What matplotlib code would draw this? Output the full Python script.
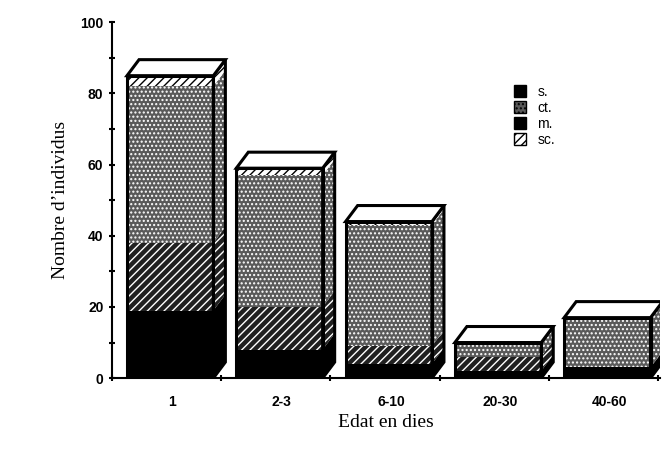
import matplotlib
matplotlib.use("Agg")
import matplotlib.pyplot as plt
from matplotlib.patches import Polygon, Patch
import numpy as np

plt.rcParams['hatch.linewidth'] = 1.0

categories = ["1", "2-3", "6-10", "20-30", "40-60"]
s_vals = [19, 8, 4, 2, 3]
m_vals = [19, 12, 5, 4, 0]
ct_vals = [44, 37, 34, 4, 14]
sc_vals = [3, 2, 1, 0, 0]

# styles per segment: (facecolor, hatch, hatchcolor)
styles = {
    "s.": ("black", None, "black"),
    "m.": ("#202020", "////", "white"),
    "ct.": ("#5a5a5a", "....", "white"),
    "sc.": ("white", "////", "black"),
}
series = [("s.", s_vals), ("m.", m_vals), ("ct.", ct_vals), ("sc.", sc_vals)]

fig = plt.figure(figsize=(6.65, 4.55), dpi=100)
ax = fig.add_axes([0.168, 0.169, 0.825, 0.782])

x = np.arange(len(categories))
left = x + 0.14
w = 0.79
dx, dy = 0.11, 4.5

bottoms = np.zeros(len(categories))
for name, vals in series:
    fc, hatch, hc = styles[name]
    vals = np.array(vals, dtype=float)
    ax.bar(left, vals, w, bottom=bottoms, align="edge", facecolor=fc,
           hatch=hatch, edgecolor=hc, linewidth=0, zorder=2)
    # side face segment
    for i in range(len(categories)):
        if vals[i] <= 0:
            continue
        x0 = left[i] + w
        b, t = bottoms[i], bottoms[i] + vals[i]
        ax.add_patch(Polygon([(x0, b), (x0 + dx, b + dy), (x0 + dx, t + dy), (x0, t)],
                             closed=True, facecolor=fc, hatch=hatch, edgecolor=hc,
                             linewidth=0, zorder=2))
    bottoms += vals

# outlines, tops
for i in range(len(categories)):
    x0, x1, t = left[i], left[i] + w, bottoms[i]
    ax.add_patch(Polygon([(x0, 0), (x1, 0), (x1, t), (x0, t)], closed=True,
                         fill=False, edgecolor="black", linewidth=2.2, zorder=3))
    ax.add_patch(Polygon([(x1, 0), (x1 + dx, dy), (x1 + dx, t + dy), (x1, t)], closed=True,
                         fill=False, edgecolor="black", linewidth=2.2, zorder=3))
    ax.add_patch(Polygon([(x0, t), (x1, t), (x1 + dx, t + dy), (x0 + dx, t + dy)], closed=True,
                         facecolor="white", edgecolor="black", linewidth=2.2, zorder=3))

ax.set_xlim(0, 5.02)
ax.set_ylim(0, 100)
ax.spines["top"].set_visible(False)
ax.spines["right"].set_visible(False)
ax.spines["left"].set_linewidth(1.5)
ax.spines["bottom"].set_linewidth(1.5)
ax.set_yticks([0, 20, 40, 60, 80, 100])
ax.set_yticks(np.arange(10, 100, 20), minor=True)
ax.set_xticks(np.arange(0, 6), minor=True)
ax.set_xticks(left + w / 2 + 0.02)
ax.set_xticklabels(categories)
ax.tick_params(axis="x", which="major", length=0, pad=12)
ax.tick_params(axis="x", which="minor", length=5, width=1.5, direction="inout")
ax.tick_params(axis="y", which="both", length=5, width=1.5, direction="inout")
for lab in ax.get_xticklabels() + ax.get_yticklabels():
    lab.set_fontweight("bold")
    lab.set_fontsize(10)
    lab.set_family("Liberation Sans")

ax.set_xlabel("Edat en dies", family="Liberation Serif", fontsize=14)
ax.set_ylabel("Nombre d’individus", family="Liberation Serif", fontsize=14, labelpad=8)

handles = [
    Patch(facecolor="black", edgecolor="black", label="s."),
    Patch(facecolor="#5a5a5a", hatch="....", edgecolor="black", label="ct."),
    Patch(facecolor="black", edgecolor="black", label="m."),
    Patch(facecolor="white", hatch="////", edgecolor="black", label="sc."),
]
ax.legend(handles=handles, loc="upper left", bbox_to_anchor=(0.71, 0.86),
          frameon=False, handlelength=0.9, handleheight=0.9,
          labelspacing=0.15, handletextpad=0.8,
          prop={"family": "Liberation Sans", "size": 10})

fig.savefig("out.png", dpi=100)
